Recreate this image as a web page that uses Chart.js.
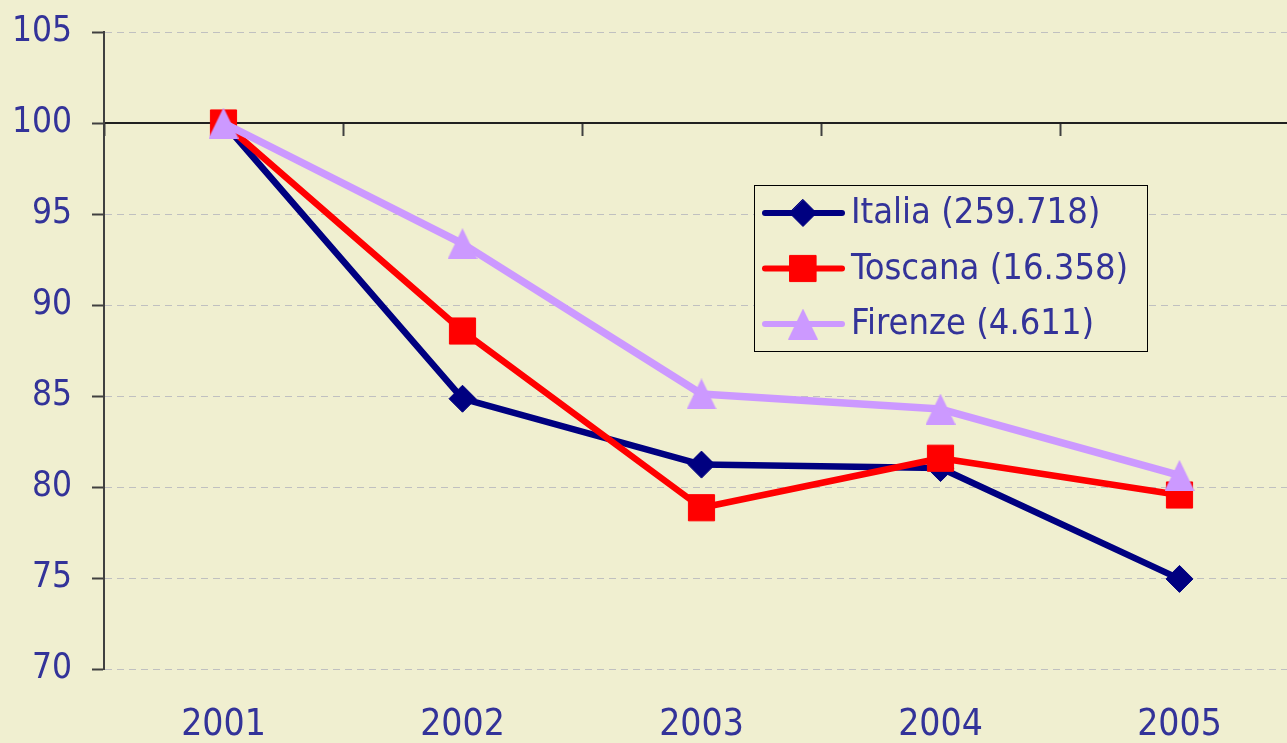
<!DOCTYPE html>
<html>
<head>
<meta charset="utf-8">
<script src="https://cdn.jsdelivr.net/npm/chart.js@4.4.1/dist/chart.umd.min.js"></script>
<style>
  html, body { margin: 0; padding: 0; background: #F0EFD0; overflow: hidden; }
  canvas { display: block; }
</style>
</head>
<body>
<canvas id="myChart" width="1300" height="743"></canvas>
<script>
const years = ['2001', '2002', '2003', '2004', '2005'];
const italia = [100, 84.85, 81.23, 81.04, 74.95];
const toscana = [100, 88.57, 78.86, 81.58, 79.56];
const firenze = [100, 93.37, 85.11, 84.28, 80.64];
const seriesNames = ['Italia (259.718)', 'Toscana (16.358)', 'Firenze (4.611)'];
const yTicks = [70, 75, 80, 85, 90, 95, 100, 105];

const FONT = "'DejaVu Sans Condensed', 'DejaVu Sans', sans-serif";
const TEXT = '#333399';

// triangle marker centred on its bounding box (like the original)
function triangle(w, h, color) {
  const c = document.createElement('canvas');
  c.width = w; c.height = h;
  const g = c.getContext('2d');
  g.fillStyle = color;
  g.beginPath();
  g.moveTo(w / 2, 0);
  g.lineTo(w, h);
  g.lineTo(0, h);
  g.closePath();
  g.fill();
  return c;
}
const tri = triangle(30, 31, '#CC99FF');

function drawMarker(ctx, style, r, x, y, color) {
  ctx.fillStyle = color;
  ctx.strokeStyle = color;
  ctx.lineWidth = 1;
  if (style instanceof HTMLCanvasElement) {
    ctx.drawImage(style, x - style.width / 2, y - style.height / 2);
    return;
  }
  ctx.beginPath();
  if (style === 'rect') {
    const s = r * Math.SQRT1_2;
    ctx.rect(x - s, y - s, 2 * s, 2 * s);
  } else {
    ctx.moveTo(x, y - r);
    ctx.lineTo(x + r, y);
    ctx.lineTo(x, y + r);
    ctx.lineTo(x - r, y);
    ctx.closePath();
  }
  ctx.fill();
  ctx.stroke();
}

// legend box drawn inside the plot, like the original
const boxLegend = {
  id: 'boxLegend',
  afterDraw(chart) {
    const ctx = chart.ctx;
    const left = 754, top = 185, w = 393, h = 166;
    ctx.save();
    ctx.fillStyle = '#F0EFD0';
    ctx.fillRect(left, top, w, h);
    ctx.strokeStyle = '#000000';
    ctx.lineWidth = 1;
    ctx.strokeRect(left + 0.5, top + 0.5, w, h);
    chart.data.datasets.forEach((ds, i) => {
      const y = 213 + i * 55.5;
      ctx.strokeStyle = ds.borderColor;
      ctx.lineWidth = 6;
      ctx.lineCap = 'round';
      ctx.beginPath();
      ctx.moveTo(765, y);
      ctx.lineTo(842, y);
      ctx.stroke();
      drawMarker(ctx, ds.pointStyle, ds.pointRadius, 803, y, ds.borderColor);
      ctx.fillStyle = TEXT;
      ctx.font = '36px ' + FONT;
      ctx.textBaseline = 'middle';
      ctx.textAlign = 'left';
      ctx.fillText(ds.label, 851, y + 1);
    });
    ctx.restore();
  }
};

const noPad = (s) => {
  s.paddingLeft = 0;
  s.paddingRight = 0;
  s.paddingTop = 0;
  s.paddingBottom = 0;
};

const ctx = document.getElementById('myChart').getContext('2d');

new Chart(ctx, {
  type: 'line',
  data: {
    labels: years,
    datasets: [
      {
        label: seriesNames[0],
        data: italia,
        borderColor: '#000080',
        backgroundColor: '#000080',
        borderWidth: 6.5,
        pointStyle: 'rectRot',
        pointRadius: 13.5,
        pointBorderWidth: 1,
        order: 3,
      },
      {
        label: seriesNames[1],
        data: toscana,
        borderColor: '#FF0000',
        backgroundColor: '#FF0000',
        borderWidth: 6.5,
        pointStyle: 'rect',
        pointRadius: 18.5,
        pointBorderWidth: 1,
        order: 2,
      },
      {
        label: seriesNames[2],
        data: firenze,
        borderColor: '#CC99FF',
        backgroundColor: '#CC99FF',
        borderWidth: 7.5,
        pointStyle: tri,
        pointRadius: 15,
        pointBorderWidth: 0,
        order: 1,
      },
    ],
  },
  options: {
    responsive: false,
    animation: false,
    events: [],
    layout: { autoPadding: false, padding: { top: 32, right: 1, bottom: 0, left: 0 } },
    elements: {
      line: { tension: 0, borderJoinStyle: 'round', borderCapStyle: 'round' },
    },
    plugins: {
      legend: { display: false },
      tooltip: { enabled: false },
    },
    scales: {
      x: {
        type: 'category',
        position: { y: 100 },
        offset: true,
        grid: {
          offset: true,
          drawOnChartArea: false,
          tickLength: 12,
          tickColor: '#404040',
          tickWidth: 2,
        },
        border: { color: '#202020', width: 2 },
        ticks: { display: false },
        afterFit: noPad,
      },
      x2: {
        type: 'category',
        position: 'bottom',
        offset: true,
        grid: { display: false, drawTicks: false, tickLength: 0 },
        border: { display: false },
        ticks: { color: TEXT, font: { family: FONT, size: 37 }, padding: 34 },
        afterFit: (s) => {
          noPad(s);
          s.height = 74;
        },
      },
      y: {
        min: 70,
        max: 105,
        afterBuildTicks: (s) => { s.ticks = yTicks.map((v) => ({ value: v })); },
        afterFit: (s) => {
          noPad(s);
          s.width = 104;
        },
        grid: {
          color: (c) => (c.tick && c.tick.value === 100 ? 'rgba(0,0,0,0)' : '#C0C0C0'),
          tickLength: 12,
          tickColor: '#404040',
          tickWidth: 2,
          tickBorderDash: [],
        },
        border: { color: '#404040', width: 2, dash: [7, 5] },
        ticks: { color: TEXT, font: { family: FONT, size: 35 }, padding: 20 },
      },
    },
  },
  plugins: [boxLegend],
});
</script>
</body>
</html>
